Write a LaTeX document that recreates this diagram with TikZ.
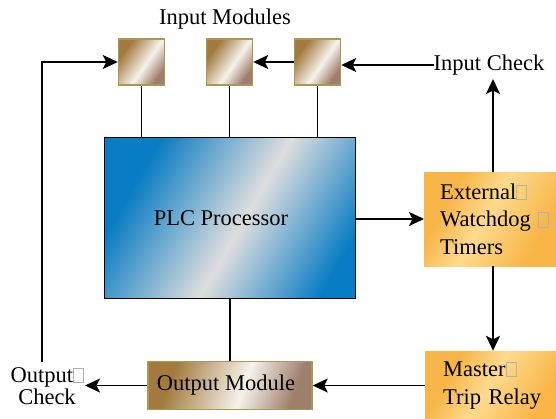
\documentclass[tikz,border=0pt]{standalone}
\usepackage{fontspec}
\setmainfont{Liberation Serif}
\usetikzlibrary{arrows.meta,positioning}

\definecolor{plcblue}{RGB}{8,124,196}
\definecolor{plcgray}{RGB}{222,222,222}
\definecolor{modbrown}{RGB}{163,122,62}
\definecolor{modmauve}{RGB}{158,126,108}
\definecolor{modedge}{RGB}{166,154,84}
\definecolor{timorange}{RGB}{248,182,72}
\definecolor{timlight}{RGB}{254,218,142}

\pgfdeclarehorizontalshading{plcshade}{100bp}{color(0bp)=(plcblue); color(27bp)=(plcblue);
  color(53bp)=(plcgray); color(77bp)=(plcblue); color(100bp)=(plcblue)}
\pgfdeclarehorizontalshading{modshade}{100bp}{color(0bp)=(modbrown); color(28bp)=(modbrown);
  color(55bp)=(white!90!modbrown); color(74bp)=(modmauve); color(100bp)=(modmauve)}
\pgfdeclarehorizontalshading{timshade}{100bp}{color(0bp)=(timorange); color(28bp)=(timorange);
  color(42bp)=(timlight); color(62bp)=(timorange); color(100bp)=(timorange)}

\newcommand{\tofu}{{\color{gray!60}\setlength{\fboxsep}{0pt}\setlength{\fboxrule}{0.5pt}\fbox{\rule{0pt}{0.62em}\hspace{0.42em}}}}

\tikzset{
  line/.style={line width=1.8pt},
  arrow/.style={line width=1.8pt, -{Stealth[length=15pt,width=14pt,inset=3.5pt]}},
  module/.style={draw=modedge, line width=1.5pt, shading=modshade, shading angle=-35,
    minimum width=46pt, minimum height=46pt, inner sep=0pt},
  timerbox/.style={shading=timshade, shading angle=-30, align=left, inner ysep=0pt,
    anchor=west, text width=140pt},
  label/.style={font=\fontsize{22.5}{24}\selectfont, inner sep=0pt}
}

\begin{document}
\begin{tikzpicture}[x=1pt,y=-1pt]
    \useasboundingbox (0,0) rectangle (556,418);

    % input modules
    \node[module] (mod1) at (141.5,62) {};
    \node[module] (mod2) at (229.5,62) {};
    \node[module] (mod3) at (317.5,62) {};
    \node[label] (modtitle) at (225,19) {Input Modules};

    \node[draw, line width=1.5pt, shading=plcshade, shading angle=-30,
        minimum width=251pt, minimum height=161pt, font=\fontsize{22.5}{24}\selectfont]
        (plc) at (230,218) {PLC Processor\hspace*{18pt}};

    % boxes on the right run past the edge of the page
    \node[timerbox, inner xsep=16pt, minimum height=94pt,
        font=\fontsize{22.5}{27.5}\selectfont] (watch) at (424,219)
        {External\tofu\\Watchdog \tofu\\Timers};
    \node[timerbox, inner xsep=18pt, minimum height=69pt,
        font=\fontsize{22.5}{28}\selectfont] (relay) at (425,385.5)
        {Master\tofu\\Trip Relay};

    \node[draw=modedge, line width=1.5pt, shading=modshade, shading angle=-20,
        minimum width=164pt, minimum height=48pt, font=\fontsize{22.5}{24}\selectfont]
        (outmod) at (230,385.5) {Output Module\hspace*{8pt}};

    \node[label] (incheck) at (489,65) {Input Check};
    \node[label, align=center, font=\fontsize{22.5}{22}\selectfont] (outcheck) at (47,386) {Output\tofu\\Check};

    \coordinate (ocend) at (85,385.5);
    \coordinate (fbtop) at (42,62);
    \coordinate (fbbot) at (42,362);
    \coordinate (icbot) at (493,79);

    \draw[line] (mod1.south) -- (mod1.south |- plc.north);
    \draw[line] (mod2.south) -- (mod2.south |- plc.north);
    \draw[line] (mod3.south) -- (mod3.south |- plc.north);
    \draw[line] (plc.south) -- (outmod.north);

    \draw[arrow] (incheck.west) -- (mod3.east |- incheck.west);
    \draw[arrow] (mod3.west) -- (mod2.east);
    \draw[arrow] (fbbot) -- (fbtop) -- (mod1.west);

    \draw[arrow] (plc.east |- watch.west) -- (watch.west);
    \draw[arrow] (watch.north -| icbot) -- (icbot);
    \draw[arrow] (watch.south -| icbot) -- (relay.north -| icbot);
    \draw[arrow] (relay.west) -- (outmod.east);
    \draw[arrow] (outmod.west) -- (ocend);

\end{tikzpicture}
\end{document}
